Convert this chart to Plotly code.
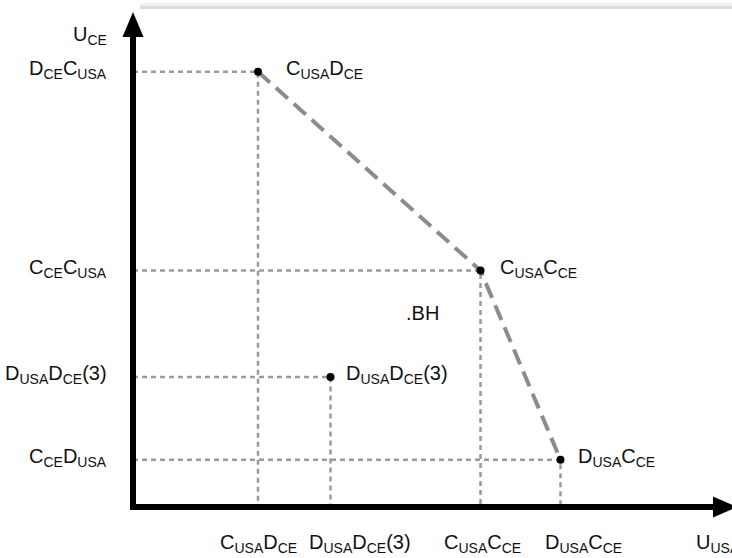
import plotly.graph_objects as go

# ---- data (utility values) ----
point_names = ["C<sub>USA</sub>D<sub>CE</sub>", "C<sub>USA</sub>C<sub>CE</sub>",
               "D<sub>USA</sub>D<sub>CE</sub>(3)", "D<sub>USA</sub>C<sub>CE</sub>"]
u_usa = [2.5, 6.95, 3.95, 8.55]
u_ce = [9.2, 5.0, 2.75, 1.0]

# pareto frontier (dashed) through these points
frontier_idx = [0, 1, 3]

# axis tick labels
x_tick_vals = [2.5, 3.95, 6.95, 8.55]
x_tick_text = ["C<sub>USA</sub>D<sub>CE</sub>", "D<sub>USA</sub>D<sub>CE</sub>(3)",
               "C<sub>USA</sub>C<sub>CE</sub>", "D<sub>USA</sub>C<sub>CE</sub>"]
y_tick_vals = [9.2, 5.0, 2.75, 1.0]
y_tick_text = ["D<sub>CE</sub>C<sub>USA</sub>", "C<sub>CE</sub>C<sub>USA</sub>",
               "D<sub>USA</sub>D<sub>CE</sub>(3)", "C<sub>CE</sub>D<sub>USA</sub>"]
x_axis_title = "U<sub>USA</sub>"
y_axis_title = "U<sub>CE</sub>"
bh_label = ".BH"
bh_pos = (5.78, 4.1)

# ---- styling ----
W, H = 732, 558
ox, oy = 133, 507          # pixel origin
sx, sy = 50.0, 47.3        # pixels per unit
xr = [-ox / sx, (W - ox) / sx]
yr = [(oy - H) / sy, oy / sy]
FONT = dict(family="Liberation Sans, Arial, sans-serif", size=20, color="#111")
label_xshift = [26, 17, 13, 15]
x_tick_xshift = [0, 29, 2, 23]
GUIDE = dict(color="#9a9a9a", width=2.5, dash="5px,4px")

fig = go.Figure()

# guide lines
for x, y in zip(u_usa, u_ce):
    fig.add_trace(go.Scatter(x=[0, x, x], y=[y, y, 0], mode="lines",
                             line=GUIDE, hoverinfo="skip", showlegend=False))

# frontier
fig.add_trace(go.Scatter(x=[u_usa[i] for i in frontier_idx],
                         y=[u_ce[i] for i in frontier_idx], mode="lines",
                         line=dict(color="#8c8c8c", width=4, dash="16px,8px"),
                         showlegend=False, hoverinfo="skip"))

# points
fig.add_trace(go.Scatter(x=u_usa, y=u_ce, mode="markers",
                         marker=dict(color="black", size=8), showlegend=False))

annotations = []
for name, x, y, dx in zip(point_names, u_usa, u_ce, label_xshift):
    annotations.append(dict(x=x, y=y, text=name, showarrow=False, xanchor="left",
                            yanchor="middle", xshift=dx, yshift=2, font=FONT))
for v, t, dx in zip(x_tick_vals, x_tick_text, x_tick_xshift):
    annotations.append(dict(x=v, y=0, text=t, showarrow=False, xanchor="center",
                            yanchor="middle", xshift=dx, yshift=-36, font=FONT))
for v, t in zip(y_tick_vals, y_tick_text):
    annotations.append(dict(x=0, y=v, text=t, showarrow=False, xanchor="right",
                            yanchor="middle", xshift=-24, yshift=2, font=FONT))
annotations.append(dict(x=0, y=yr[1], text=y_axis_title, showarrow=False, xanchor="right",
                        yanchor="middle", xshift=-24, yshift=-35, font=FONT))
annotations.append(dict(x=xr[1], y=0, text=x_axis_title, showarrow=False, xanchor="left",
                        yanchor="middle", xshift=-38, yshift=-36, font=FONT))
annotations.append(dict(x=bh_pos[0], y=bh_pos[1], text=bh_label, showarrow=False,
                        xanchor="center", yanchor="middle", font=FONT))

# axes with arrows
ytop = (oy - 37) / sy
ytip = (oy - 12) / sy
xend = (713 - ox) / sx
xtip = (737 - ox) / sx
hw_x = 10.5 / sx
hw_y = 10.5 / sy
shapes = [
    dict(type="path", path=f"M 0,{ytop} L 0,0 L {xend},0", line=dict(color="black", width=6),
         xref="x", yref="y"),
    dict(type="path", path=f"M {-hw_x},{ytop} L 0,{ytip} L {hw_x},{ytop} Z",
         fillcolor="black", line=dict(width=0), xref="x", yref="y"),
    dict(type="path", path=f"M {xend},{hw_y} L {xtip},0 L {xend},{-hw_y} Z",
         fillcolor="black", line=dict(width=0), xref="x", yref="y"),
    # faint top shadow strip
    dict(type="rect", xref="paper", yref="paper", x0=140 / W, x1=1, y0=1 - 6 / H, y1=1 - 3 / H,
         fillcolor="#f0f0f0", line=dict(width=0)),
    dict(type="rect", xref="paper", yref="paper", x0=140 / W, x1=1, y0=1 - 9 / H, y1=1 - 6 / H,
         fillcolor="#dcdcdc", line=dict(width=0)),
]

fig.update_layout(
    width=W, height=H, autosize=False,
    margin=dict(l=0, r=0, t=0, b=0),
    paper_bgcolor="white", plot_bgcolor="white",
    xaxis=dict(range=xr, visible=False, fixedrange=True),
    yaxis=dict(range=yr, visible=False, fixedrange=True),
    annotations=annotations, shapes=shapes, showlegend=False,
)

fig.write_html("out.html", config={"staticPlot": True},
               post_script="document.body.style.margin='0';document.body.style.overflow='hidden';")
